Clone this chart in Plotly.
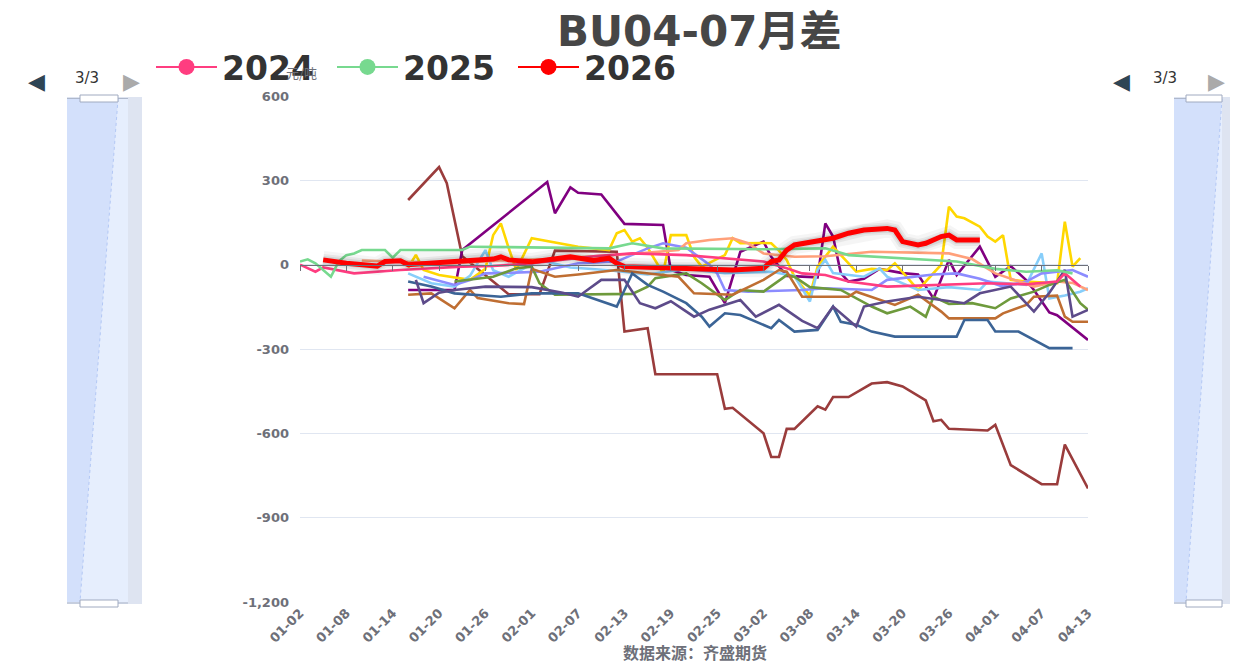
import pandas as pd
import plotly.graph_objects as go

# ---------------- categories / ticks ----------------
CATS = list(pd.date_range("2024-01-02", "2024-04-13").strftime("%m-%d"))
XTICKS = CATS[::6]
YTICKS = [600, 300, 0, -300, -600, -900, -1200]
YTICKTEXT = ["600", "300", "0", "-300", "-600", "-900", "-1,200"]

# ---------------- series ----------------
S2014_X = ["01-16","01-20","01-21","01-23","01-27","01-29","02-02","02-04","02-12","02-13",
           "02-16","02-17","02-25","02-26","02-27","03-02","03-03","03-04","03-05","03-06",
           "03-09","03-10","03-11","03-13","03-16","03-18","03-20","03-23","03-24","03-25",
           "03-26","03-31","04-01","04-03","04-07","04-09","04-10","04-13"]
S2014_Y = [230,347,290,30,-60,-105,-105,50,46,-238,
           -226,-390,-390,-513,-509,-600,-684,-684,-584,-584,
           -504,-516,-471,-471,-423,-418,-433,-483,-557,-552,
           -584,-590,-570,-713,-781,-781,-640,-796]

S2015_X = ["01-16","01-22","01-23","02-03","02-04","02-06","02-07","02-10","02-13","02-18",
           "02-19","02-21","02-24","02-26","02-28","03-02","03-03","03-05","03-09","03-10",
           "03-11","03-12","03-13","03-15","03-17","03-20","03-22","03-24","03-26","03-27",
           "03-30","04-01","04-03","04-05","04-06","04-08","04-09","04-13"]
S2015_Y = [-90,-90,52,294,183,275,256,250,145,141,
           -19,-37,-43,-137,46,82,28,-40,-45,147,
           100,-30,-60,-50,-15,-30,-35,-120,17,-37,
           64,-43,-5,-55,-90,-170,-180,-268]

S2016_X = ["01-16","01-17","01-18","01-20","01-24","01-26","01-27","01-28","01-29","01-30",
           "02-01","02-07","02-11","02-12","02-13","02-14","02-15","02-16","02-18","02-19",
           "02-21","02-22","02-23","02-26","02-27","02-28","03-02","03-03","03-04","03-05",
           "03-06","03-08","03-09","03-11","03-14","03-16","03-18","03-19","03-22","03-25",
           "03-26","03-27","03-28","03-30","03-31","04-01","04-02","04-03","04-05","04-09",
           "04-10","04-11","04-12"]
S2016_Y = [-10,35,-19,-37,-54,-15,105,147,60,-19,
           94,64,52,112,123,82,94,60,-31,105,
           105,28,-7,34,94,76,77,76,50,17,
           -43,-110,-7,64,-25,-15,-19,5,-90,0,
           206,171,165,135,100,82,105,-54,-60,-66,
           153,-7,23]

S2017_X = ["01-16","01-19","01-22","01-24","01-26","01-27","01-29","02-02","02-06","02-11",
           "02-16","02-21","02-26","03-03","03-06","03-08","03-09","03-10","03-11","03-15",
           "03-17","03-18","03-22","03-26","03-30","03-31","04-05","04-07","04-08","04-10",
           "04-12","04-13"]
S2017_Y = [-31,-66,-78,-40,52,-20,-43,17,-10,-20,
           -35,-15,-30,-25,-40,-131,-19,17,-30,-43,
           -13,-43,-90,-80,-90,-60,-72,40,-120,-110,
           -96,-84]

S2018_X = ["01-18","01-22","01-24","01-26","01-28","02-02","02-07","02-12","02-14","02-16",
           "02-18","02-21","02-24","02-25","02-26","02-29","03-07","03-10","03-16","03-18",
           "03-24","03-27","03-30","04-02","04-05","04-07","04-09","04-11","04-13"]
S2018_Y = [-43,-72,-55,-31,-30,-25,5,11,35,58,
           76,60,0,-31,-90,-96,-90,-84,-90,-54,
           -35,-31,-50,-78,-60,-31,-25,-19,-43]

S2019_X = ["01-10","01-16","01-22","01-28","02-03","02-09","02-15","02-20","02-21","02-24",
           "02-27","02-29","03-02","03-06","03-10","03-16","03-26","03-29","04-01","04-06",
           "04-09","04-11","04-13"]
S2019_Y = [15,10,5,15,20,30,40,52,76,88,
           94,76,40,28,30,46,40,20,-31,-78,
           -60,-65,-90]

S2020_X = ["01-22","01-27","01-30","02-01","02-02","02-04","02-14","02-16","02-17","02-21",
           "02-23","02-26","02-28","03-02","03-05","03-06","03-08","03-12","03-16","03-18",
           "03-21","03-23","03-24","03-26","03-29","04-01","04-03","04-06","04-08","04-10",
           "04-12","04-13"]
S2020_Y = [-60,-43,-13,-7,-66,-107,-104,-78,-48,-31,
           -66,-126,-90,-96,-37,-43,-80,-90,-149,-173,
           -149,-185,-114,-140,-137,-155,-120,-96,-72,-54,
           -137,-160]

S2021_X = ["01-16","01-19","01-22","01-24","01-25","01-29","01-31","02-01","02-04","02-07",
           "02-12","02-16","02-20","02-22","02-27","03-02","03-04","03-05","03-07","03-13",
           "03-14","03-19","03-22","03-25","03-26","04-01","04-02","04-05","04-06","04-09",
           "04-10","04-11","04-13"]
S2021_Y = [-107,-102,-155,-90,-119,-137,-140,-15,-43,-35,
           -19,-30,-43,-102,-107,-54,-19,-25,-114,-114,
           -96,-143,-107,-167,-191,-191,-173,-143,-114,-110,
           -185,-203,-203]

S2022_X = ["01-16","01-19","01-22","01-28","02-01","02-07","02-12","02-14","02-16","02-18",
           "02-21","02-23","02-24","02-26","02-28","03-03","03-04","03-06","03-09","03-11",
           "03-12","03-14","03-16","03-19","03-27","03-28","03-31","04-01","04-04","04-08",
           "04-11"]
S2022_Y = [-60,-78,-102,-114,-102,-102,-149,-31,-72,-96,
           -137,-185,-220,-173,-179,-226,-197,-238,-232,-149,
           -203,-214,-238,-256,-256,-197,-197,-238,-238,-297,
           -297]

S2023_X = ["01-17","01-18","01-20","01-22","01-26","02-01","02-05","02-07","02-10","02-13",
           "02-15","02-17","02-19","02-22","02-24","02-26","02-28","03-01","03-04","03-07",
           "03-09","03-11","03-14","03-15","03-18","03-22","03-28","03-30","04-03","04-06",
           "04-08","04-10","04-11","04-13"]
S2023_Y = [-54,-137,-100,-90,-78,-80,-100,-114,-54,-54,
           -137,-155,-130,-185,-160,-143,-126,-185,-143,-200,
           -226,-149,-220,-149,-131,-114,-137,-102,-78,-167,
           -100,-19,-185,-161]

S2024_X = ["01-02","01-04","01-05","01-07","01-09","01-15","01-23","01-27","02-01","02-09",
           "02-14","02-21","03-02","03-05","03-07","03-10","03-13","03-18","03-24","03-31",
           "04-05","04-09","04-10","04-12"]
S2024_Y = [0,-25,-10,-20,-31,-19,-7,-5,5,30,
           40,34,11,-13,-31,-37,-60,-78,-72,-66,
           -70,-60,-31,-78]

S2025_X = ["01-02","01-03","01-04","01-06","01-07","01-08","01-09","01-10","01-13","01-14",
           "01-15","01-23","01-24","02-11","02-14","02-18","03-02","03-10","03-13","03-24",
           "03-27","04-01","04-05","04-09","04-11"]
S2025_Y = [11,19,5,-43,11,34,40,52,52,25,
           52,52,64,58,76,58,55,58,34,17,
           11,-15,-25,-20,-31]

S2026_X = ["01-05","01-08","01-12","01-13","01-15","01-16","01-22","01-27","01-28","01-29",
           "02-01","02-04","02-06","02-09","02-11","02-12","02-13","02-20","02-27","03-02",
           "03-03","03-04","03-05","03-06","03-09","03-11","03-13","03-15","03-18","03-19",
           "03-20","03-22","03-23","03-25","03-26","03-27","03-30"]
S2026_Y = [17,5,-5,11,14,0,11,20,28,17,
           10,23,28,15,23,5,-7,-13,-19,-13,
           11,17,52,70,82,94,112,123,129,123,
           82,70,76,100,105,88,88]

OLD_SERIES = [
    ("2014", S2014_X, S2014_Y, "#9a3c3c"),
    ("2015", S2015_X, S2015_Y, "#800080"),
    ("2016", S2016_X, S2016_Y, "#ffd700"),
    ("2017", S2017_X, S2017_Y, "#87cefa"),
    ("2018", S2018_X, S2018_Y, "#8c8cff"),
    ("2019", S2019_X, S2019_Y, "#ffa07a"),
    ("2020", S2020_X, S2020_Y, "#6e9a3c"),
    ("2021", S2021_X, S2021_Y, "#bf6e32"),
    ("2022", S2022_X, S2022_Y, "#3b6496"),
    ("2023", S2023_X, S2023_Y, "#5d4b8a"),
]
C2024, C2025, C2026 = "#ff3d80", "#77d98f", "#ff0000"

# ---------------- figure ----------------
OFF = 8                       # page body margin
W, H = 1238 - OFF, 664 - OFF
PL, PR, PT, PB = 300, 1088, 96, 602   # plot area in screen pixels
L, T = PL - OFF, PT - OFF
R, B = W - (PR - OFF), H - (PB - OFF)
PW, PH = PR - PL, PB - PT


def px(x):
    return (x - PL) / PW


def py(y):
    return (PB - y) / PH


fig = go.Figure()

# full category set (invisible)
fig.add_trace(go.Scatter(x=CATS, y=[None] * len(CATS), mode="lines",
                         showlegend=False, hoverinfo="skip"))
fig.add_trace(go.Scatter(x=CATS, y=[None] * len(CATS), mode="lines", xaxis="x2",
                         showlegend=False, hoverinfo="skip"))

for name, xs, ys, col in OLD_SERIES:
    fig.add_trace(go.Scatter(x=xs, y=ys, name=name, mode="lines",
                             line=dict(color=col, width=2.6), showlegend=False))

fig.add_trace(go.Scatter(x=S2024_X, y=S2024_Y, name="2024", mode="lines",
                         line=dict(color=C2024, width=2.6), showlegend=False))
fig.add_trace(go.Scatter(x=S2025_X, y=S2025_Y, name="2025", mode="lines",
                         line=dict(color=C2025, width=2.6), showlegend=False))
# shadow of 2026 line
for w, a in [(18, 0.04), (12, 0.06), (8, 0.08)]:
    fig.add_trace(go.Scatter(x=S2026_X, y=S2026_Y, mode="lines", hoverinfo="skip",
                             line=dict(color=f"rgba(0,0,0,{a})", width=w), showlegend=False))
fig.add_trace(go.Scatter(x=S2026_X, y=S2026_Y, name="2026", mode="lines",
                         line=dict(color=C2026, width=5), showlegend=False))

# legend entries (page 3/3)
for name, col in [("2024", C2024), ("2025", C2025), ("2026", C2026)]:
    fig.add_trace(go.Scatter(x=[None], y=[None], name=name, mode="lines+markers",
                             line=dict(color=col, width=2),
                             marker=dict(color=col, size=16)))

tickfont = dict(family="DejaVu Sans", size=13, color="#6E7079", weight="bold")

fig.update_layout(
    width=W, height=H,
    margin=dict(l=L, r=R, t=T, b=B, autoexpand=False),
    paper_bgcolor="white", plot_bgcolor="white",
    showlegend=True,
    legend=dict(orientation="h", xref="container", yref="container",
                x=143 / W, y=1 - (67 - OFF) / H, xanchor="left", yanchor="middle",
                font=dict(family="DejaVu Sans", size=33, color="#333333", weight="bold"),
                itemwidth=61, entrywidth=105, bgcolor="rgba(0,0,0,0)",
                traceorder="normal", tracegroupgap=0),
    xaxis=dict(type="category", categoryorder="array", categoryarray=CATS,
               range=[0, len(CATS) - 1], tickmode="array", tickvals=XTICKS,
               tickangle=-45, tickfont=tickfont, showgrid=False, showline=False,
               ticks="", zeroline=False, automargin=False),
    xaxis2=dict(type="category", categoryorder="array", categoryarray=CATS,
                overlaying="x", anchor="free", position=1200 / 1800,
                range=[0, len(CATS) - 1], tickmode="array", tickvals=XTICKS,
                showticklabels=False, showgrid=False, showline=True,
                linecolor="#6E7079", linewidth=1, ticks="outside", ticklen=5,
                tickcolor="#6E7079", zeroline=False, automargin=False),
    yaxis=dict(range=[-1200, 600], tickmode="array", tickvals=YTICKS, ticktext=YTICKTEXT,
               showgrid=True, gridcolor="#E0E6F1", gridwidth=1, zeroline=False,
               tickfont=tickfont, ticklabelstandoff=10, showline=False, automargin=False),
)

annotations = [
    dict(text="BU04-07月差", x=px(699), y=py(31), xref="paper", yref="paper",
         showarrow=False, xanchor="center", yanchor="middle",
         font=dict(family="DejaVu Sans, Noto Sans CJK SC", size=42, color="#464646",
                   weight="bold")),
    dict(text="元/吨", x=px(301), y=py(72), xref="paper", yref="paper", showarrow=False,
         xanchor="center", yanchor="middle",
         font=dict(family="Noto Sans CJK SC", size=13, color="#6E7079")),
    dict(text="数据来源：齐盛期货", x=px(695), y=py(652), xref="paper", yref="paper",
         showarrow=False, xanchor="center", yanchor="middle",
         font=dict(family="Noto Sans CJK SC", size=16, color="#6E7079", weight="bold")),
]
for cx in (26, 1132):
    annotations += [
        dict(text="◀", x=px(cx), y=py(67), xref="paper", yref="paper", showarrow=False,
             font=dict(family="DejaVu Sans", size=22, color="#2F4554")),
        dict(text="3/3", x=px(cx + 47), y=py(67), xref="paper", yref="paper",
             showarrow=False, font=dict(family="DejaVu Sans", size=15, color="#333333")),
        dict(text="▶", x=px(cx + 95), y=py(67), xref="paper", yref="paper",
             showarrow=False, font=dict(family="DejaVu Sans", size=22, color="#AAAAAA")),
    ]
fig.update_layout(annotations=annotations)

# vertical dataZoom sliders (decoration)
shapes = []
for (x0, x1, xi0, xi1, xt, xb) in [(67, 142, 80, 128, 118, 80),
                                  (1174, 1232, 1186, 1222, 1222, 1186)]:
    shapes += [
        dict(type="rect", xref="paper", yref="paper", x0=px(x0), x1=px(x1),
             y0=py(604), y1=py(97), fillcolor="#DEE4F1", line=dict(width=0), layer="below"),
        dict(type="rect", xref="paper", yref="paper", x0=px(x0), x1=px(xi1),
             y0=py(602), y1=py(99), fillcolor="#E6EEFD", line=dict(width=0), layer="below"),
        dict(type="path", xref="paper", yref="paper",
             path=f"M{px(x0)},{py(99)} L{px(xt)},{py(99)} L{px(xb)},{py(602)} L{px(x0)},{py(602)} Z",
             fillcolor="#D3E0FB", line=dict(width=0), layer="below"),
        dict(type="line", xref="paper", yref="paper", x0=px(xt), y0=py(99), x1=px(xb),
             y1=py(602), line=dict(color="#B3C8F5", width=1, dash="dot")),
        dict(type="line", xref="paper", yref="paper", x0=px(x0), y0=py(98.5), x1=px(xi1),
             y1=py(98.5), line=dict(color="#AEB8CC", width=1)),
        dict(type="line", xref="paper", yref="paper", x0=px(x0), y0=py(603), x1=px(xi1),
             y1=py(603), line=dict(color="#AEB8CC", width=1)),
        dict(type="rect", xref="paper", yref="paper", x0=px(xi0), x1=px(xt),
             y0=py(102), y1=py(95), fillcolor="white", line=dict(color="#A0AAC0", width=1)),
        dict(type="rect", xref="paper", yref="paper", x0=px(xi0), x1=px(xt),
             y0=py(607), y1=py(600), fillcolor="white", line=dict(color="#A0AAC0", width=1)),
    ]
fig.update_layout(shapes=shapes)

fig.write_html("out.html")
